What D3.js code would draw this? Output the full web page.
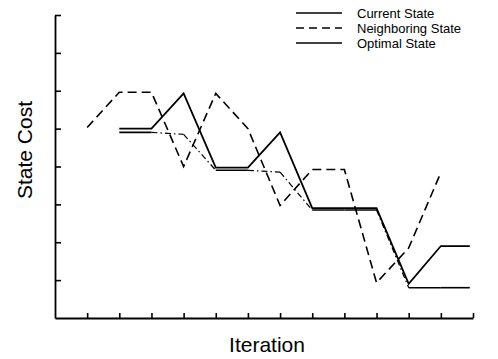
<!DOCTYPE html>
<html>
<head>
<meta charset="utf-8">
<script src="https://cdn.jsdelivr.net/npm/d3@7"></script>
<style>
  html, body { margin: 0; padding: 0; background: #fff; }
  svg { display: block; font-family: "Liberation Sans", Arial, Helvetica, sans-serif; }
</style>
</head>
<body>
<svg id="chart" width="498" height="359"></svg>
<script>
// Iteration index for the neighbouring-state series
const neighborIter = [1, 2, 3, 4, 5, 6, 7, 8, 9, 10, 11, 12];
const neighborCost = [5.03, 5.96, 5.96, 4.0, 5.93, 5.0, 2.97, 3.92, 3.92, 0.93, 1.85, 3.84];

// Current state and optimal state start at iteration 2 and run to the end of the axis
const stateIter = [2, 3, 4, 5, 6, 7, 8, 9, 10, 11, 12, 12.9];
const currentCost = [5.0, 5.0, 5.93, 3.97, 3.97, 4.9, 2.9, 2.9, 2.9, 0.9, 1.9, 1.9];
const optimalCost = [4.9, 4.9, 4.85, 3.9, 3.9, 3.85, 2.85, 2.85, 2.85, 0.8, 0.8, 0.8];

const xTicks = [1, 2, 3, 4, 5, 6, 7, 8, 9, 10, 11, 12, 13];
const yTicks = [1, 2, 3, 4, 5, 6, 7, 8];

const legendLabels = ["Current State", "Neighboring State", "Optimal State"];

const svg = d3.select("#chart");

const x = d3.scaleLinear().domain([0, 13]).range([55, 473]);
const y = d3.scaleLinear().domain([0, 8]).range([318, 15]);

// Axes: ticks point inward, no labels
const xAxis = d3.axisTop(x).tickValues(xTicks).tickSize(5).tickSizeOuter(0).tickFormat("");
const yAxis = d3.axisRight(y).tickValues(yTicks).tickSize(6).tickSizeOuter(0).tickFormat("");

const gx = svg.append("g").attr("transform", `translate(0,${y(0)})`).call(xAxis);
const gy = svg.append("g").attr("transform", `translate(${x(0)},0)`).call(yAxis);
[gx, gy].forEach(g => {
  g.select(".domain").attr("stroke", "#000").attr("stroke-width", 1.8);
  g.selectAll(".tick line").attr("stroke", "#000").attr("stroke-width", 1.6);
});

const line = d3.line().x(d => x(d[0])).y(d => y(d[1]));

// Neighbouring state: dashed
svg.append("path")
  .datum(d3.zip(neighborIter, neighborCost))
  .attr("d", line)
  .attr("fill", "none")
  .attr("stroke", "#000")
  .attr("stroke-width", 1.6)
  .attr("stroke-dasharray", "9,5");

// Optimal state: solid on plateaus, dash-dot where it descends
const optPts = d3.zip(stateIter, optimalCost);
d3.pairs(optPts).forEach(([a, b]) => {
  const drop = Math.abs(a[1] - b[1]) > 0.01;
  svg.append("path")
    .datum([a, b])
    .attr("d", line)
    .attr("fill", "none")
    .attr("stroke", "#000")
    .attr("stroke-width", drop ? 1.2 : 1.6)
    .attr("stroke-dasharray", drop ? "6,3,1.5,3" : null);
});

// Current state: solid
svg.append("path")
  .datum(d3.zip(stateIter, currentCost))
  .attr("d", line)
  .attr("fill", "none")
  .attr("stroke", "#000")
  .attr("stroke-width", 1.8)
  .attr("stroke-linejoin", "miter");

// Legend
const legendY = d3.scalePoint().domain(legendLabels).range([13, 43]);
const dashes = [null, "8,5", null];
const lg = svg.append("g");
legendLabels.forEach((lab, i) => {
  lg.append("line")
    .attr("x1", 296).attr("x2", 342)
    .attr("y1", legendY(lab)).attr("y2", legendY(lab))
    .attr("stroke", "#000")
    .attr("stroke-width", 1.5)
    .attr("stroke-dasharray", dashes[i]);
  lg.append("text")
    .attr("x", 357).attr("y", legendY(lab))
    .attr("dy", "0.35em")
    .attr("font-size", 13)
    .attr("fill", "#000")
    .text(lab);
});

// Axis titles
svg.append("text")
  .attr("x", 267).attr("y", 352)
  .attr("text-anchor", "middle")
  .attr("font-size", 21)
  .attr("fill", "#000")
  .text("Iteration");

svg.append("text")
  .attr("transform", "translate(32,150) rotate(-90)")
  .attr("text-anchor", "middle")
  .attr("font-size", 21)
  .attr("fill", "#000")
  .text("State Cost");
</script>
</body>
</html>
